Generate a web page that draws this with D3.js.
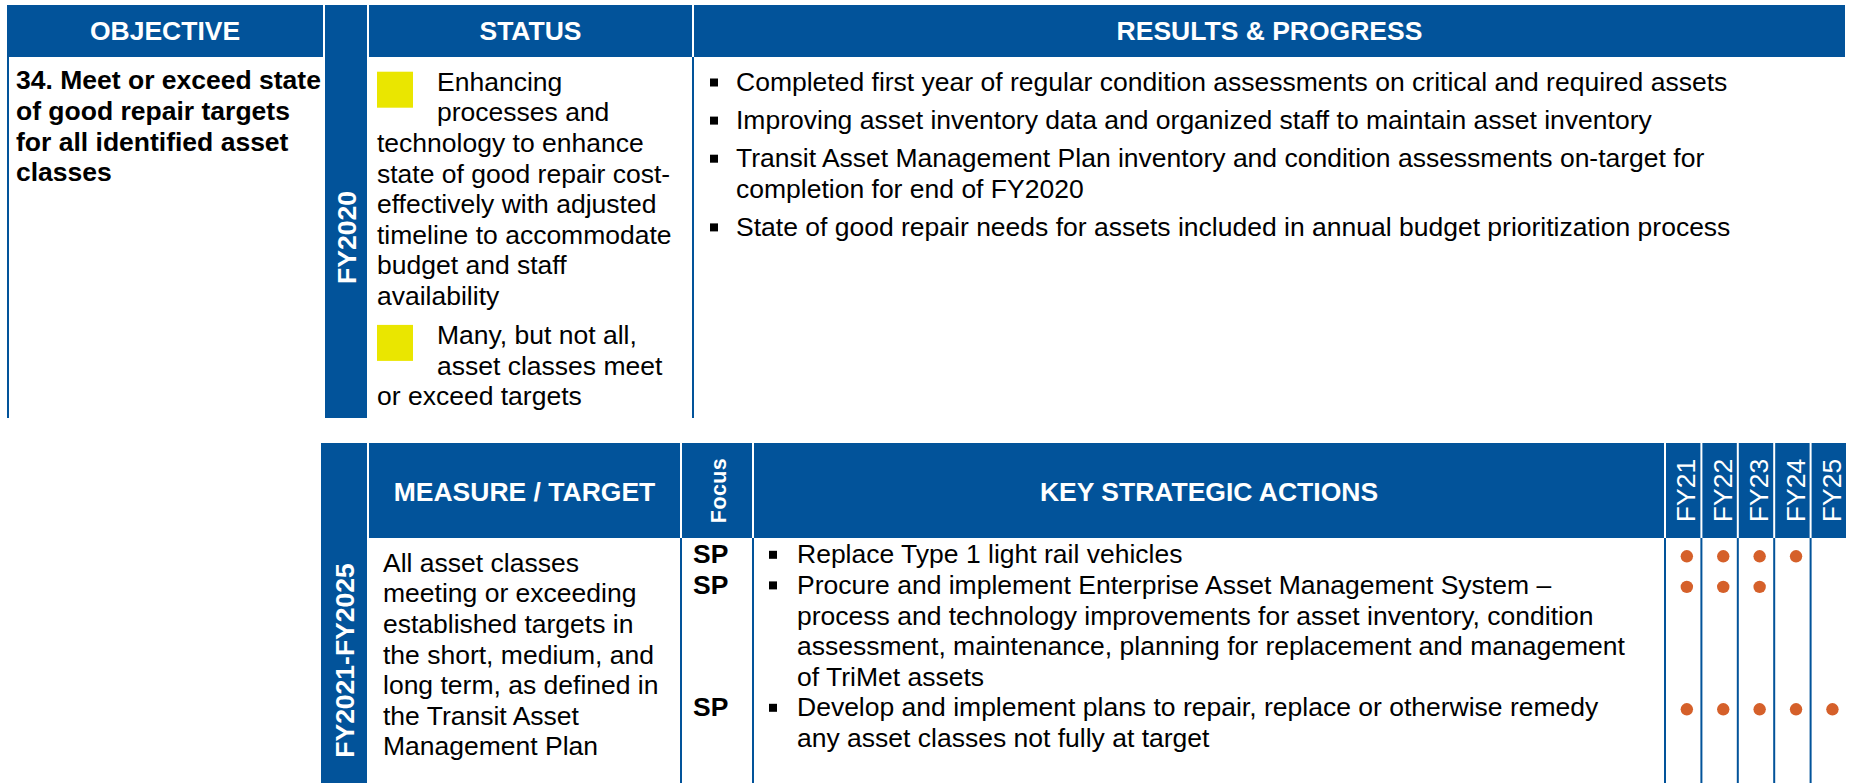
<!DOCTYPE html>
<html><head><meta charset="utf-8">
<script src="https://cdn.jsdelivr.net/npm/d3@7"></script>
<style>
body{margin:0;background:#fff;}
svg{display:block;}
text{font-family:"Liberation Sans",Arial,Helvetica,sans-serif;}
</style>
</head><body>
<script>
// ---------------- DATA ----------------
const topHeaders = ["OBJECTIVE", "STATUS", "RESULTS & PROGRESS"];
const periodNow = "FY2020";
const objectiveLines = ["34. Meet or exceed state", "of good repair targets", "for all identified asset", "classes"];
const statusColors = ["#EAE600", "#EAE600"];
const statusLines = [
  ["Enhancing", "processes and", "technology to enhance", "state of good repair cost-", "effectively with adjusted", "timeline to accommodate", "budget and staff", "availability"],
  ["Many, but not all,", "asset classes meet", "or exceed targets"]
];
const resultsLines = [
  ["Completed first year of regular condition assessments on critical and required assets"],
  ["Improving asset inventory data and organized staff to maintain asset inventory"],
  ["Transit Asset Management Plan inventory and condition assessments on-target for", "completion for end of FY2020"],
  ["State of good repair needs for assets included in annual budget prioritization process"]
];
const periodPlan = "FY2021-FY2025";
const bottomHeaders = ["MEASURE / TARGET", "Focus", "KEY STRATEGIC ACTIONS"];
const years = ["FY21", "FY22", "FY23", "FY24", "FY25"];
const measureLines = ["All asset classes", "meeting or exceeding", "established targets in", "the short, medium, and", "long term, as defined in", "the Transit Asset", "Management Plan"];
const actionFocus = ["SP", "SP", "SP"];
const actionLines = [
  ["Replace Type 1 light rail vehicles"],
  ["Procure and implement Enterprise Asset Management System \u2013", "process and technology improvements for asset inventory, condition", "assessment, maintenance, planning for replacement and management", "of TriMet assets"],
  ["Develop and implement plans to repair, replace or otherwise remedy", "any asset classes not fully at target"]
];
const actionYears = [
  ["FY21", "FY22", "FY23", "FY24"],
  ["FY21", "FY22", "FY23"],
  ["FY21", "FY22", "FY23", "FY24", "FY25"]
];

// ---------------- STYLE / LAYOUT ----------------
const W = 1853, H = 783;
const BLUE = "#02539A", DOT = "#D5602A";
const FS = 26.5, PITCH = 30.6;

const svg = d3.select("body").append("svg").attr("width", W).attr("height", H);

// ===== TOP SECTION =====
const T = {top: 5, hdr: 57, bottom: 418};
const topCols = d3.scaleOrdinal().domain(topHeaders).range([[7, 323], [369, 692], [694, 1845]]);
const barNow = [325, 367];

svg.selectAll("rect.th").data(topHeaders).join("rect").attr("class", "th")
  .attr("x", d => topCols(d)[0]).attr("y", T.top)
  .attr("width", d => topCols(d)[1] - topCols(d)[0]).attr("height", T.hdr - T.top)
  .attr("fill", BLUE);
svg.selectAll("text.th").data(topHeaders).join("text").attr("class", "th")
  .attr("x", d => (topCols(d)[0] + topCols(d)[1]) / 2).attr("y", 40)
  .attr("text-anchor", "middle").attr("fill", "#fff").attr("font-weight", "bold")
  .attr("font-size", FS).text(d => d);

svg.append("rect").attr("x", barNow[0]).attr("y", T.top).attr("width", barNow[1] - barNow[0])
  .attr("height", T.bottom - T.top).attr("fill", BLUE);
svg.append("text").attr("transform", `translate(${(barNow[0] + barNow[1]) / 2 + 1},${(T.hdr + T.bottom) / 2}) rotate(-90)`)
  .attr("dy", "0.35em").attr("text-anchor", "middle").attr("fill", "#fff")
  .attr("font-weight", "bold").attr("font-size", FS).text(periodNow);

svg.append("rect").attr("x", 7).attr("y", T.hdr).attr("width", 2).attr("height", T.bottom - T.hdr).attr("fill", BLUE);
svg.append("rect").attr("x", 692).attr("y", T.hdr).attr("width", 2).attr("height", T.bottom - T.hdr).attr("fill", BLUE);

const objY = d3.scaleLinear().domain([0, 1]).range([89.3, 89.3 + PITCH]);
svg.append("g").selectAll("text").data(objectiveLines).join("text")
  .attr("x", 16).attr("y", (d, i) => objY(i)).attr("font-size", FS).attr("font-weight", "bold")
  .attr("fill", "#000").text(d => d);

const stY = d3.scaleLinear().domain([0, 1]).range([90.7, 90.7 + PITCH]);
const STATUS_GAP = 8.4;
let offs = 0;
statusLines.forEach((lines, p) => {
  const g = svg.append("g");
  const base = offs;
  g.append("rect").attr("x", 377).attr("y", stY(base) + p * STATUS_GAP - 19)
    .attr("width", 36).attr("height", 36).attr("fill", statusColors[p]);
  g.selectAll("text").data(lines).join("text")
    .attr("x", (d, i) => i < 2 ? 437 : 377)
    .attr("y", (d, i) => stY(base + i) + p * STATUS_GAP)
    .attr("font-size", FS).attr("fill", "#000").text(d => d);
  offs += lines.length;
});

const rY = d3.scaleLinear().domain([0, 1]).range([91, 91 + PITCH]);
const RES_GAP = 7.5;
offs = 0;
resultsLines.forEach((lines, p) => {
  const g = svg.append("g");
  const y0 = rY(offs) + p * RES_GAP;
  g.append("rect").attr("x", 710).attr("y", y0 - 12.5).attr("width", 8).attr("height", 8).attr("fill", "#000");
  g.selectAll("text").data(lines).join("text")
    .attr("x", 736).attr("y", (d, i) => y0 + i * PITCH)
    .attr("font-size", FS).attr("fill", "#000").text(d => d);
  offs += lines.length;
});

// ===== BOTTOM SECTION =====
const B = {top: 443, hdr: 538, bottom: 783};
const barPlan = [321, 367];
const botCols = d3.scaleOrdinal().domain(bottomHeaders).range([[369, 680], [682, 752], [754, 1664]]);
const xYear = d3.scaleBand().domain(years).range([1665, 1847]);

svg.append("rect").attr("x", barPlan[0]).attr("y", B.top).attr("width", barPlan[1] - barPlan[0])
  .attr("height", B.bottom - B.top).attr("fill", BLUE);
svg.append("text").attr("transform", `translate(${(barPlan[0] + barPlan[1]) / 2 + 1},${(B.hdr + B.bottom) / 2}) rotate(-90)`)
  .attr("dy", "0.35em").attr("text-anchor", "middle").attr("fill", "#fff")
  .attr("font-weight", "bold").attr("font-size", FS).text(periodPlan);

svg.selectAll("rect.bh").data(bottomHeaders).join("rect").attr("class", "bh")
  .attr("x", d => botCols(d)[0]).attr("y", B.top)
  .attr("width", d => botCols(d)[1] - botCols(d)[0]).attr("height", B.hdr - B.top).attr("fill", BLUE);
svg.selectAll("text.bh").data([bottomHeaders[0], bottomHeaders[2]]).join("text").attr("class", "bh")
  .attr("x", d => (botCols(d)[0] + botCols(d)[1]) / 2).attr("y", 501)
  .attr("text-anchor", "middle").attr("fill", "#fff").attr("font-weight", "bold")
  .attr("font-size", FS).text(d => d);
svg.append("text")
  .attr("transform", `translate(${(botCols(bottomHeaders[1])[0] + botCols(bottomHeaders[1])[1]) / 2 + 1},${(B.top + B.hdr) / 2}) rotate(-90)`)
  .attr("dy", "0.35em").attr("text-anchor", "middle").attr("fill", "#fff")
  .attr("font-weight", "bold").attr("font-size", 21.5).attr("letter-spacing", 0.4).text(bottomHeaders[1]);

svg.selectAll("rect.yh").data(years).join("rect").attr("class", "yh")
  .attr("x", d => xYear(d) + 1).attr("y", B.top).attr("width", xYear.bandwidth() - 2)
  .attr("height", B.hdr - B.top).attr("fill", BLUE);
svg.selectAll("text.yh").data(years).join("text").attr("class", "yh")
  .attr("transform", d => `translate(${xYear(d) + xYear.bandwidth() / 2 + 3},${(B.top + B.hdr) / 2}) rotate(-90)`)
  .attr("dy", "0.35em").attr("text-anchor", "middle").attr("fill", "#fff")
  .attr("font-size", FS).text(d => d);

const vLines = [681, 753].concat(years.map(d => xYear(d)));
svg.selectAll("rect.vl").data(vLines).join("rect").attr("class", "vl")
  .attr("x", d => d - 1).attr("y", B.hdr).attr("width", 2).attr("height", B.bottom - B.hdr).attr("fill", BLUE);

const mY = d3.scaleLinear().domain([0, 1]).range([571.7, 571.7 + PITCH]);
svg.append("g").selectAll("text").data(measureLines).join("text")
  .attr("x", 383).attr("y", (d, i) => mY(i)).attr("font-size", FS).attr("fill", "#000").text(d => d);

const aY = d3.scaleLinear().domain([0, 1]).range([563.3, 563.3 + PITCH]);
offs = 0;
actionLines.forEach((lines, p) => {
  const g = svg.append("g");
  const y0 = aY(offs);
  g.append("text").attr("x", 693).attr("y", y0).attr("font-size", FS).attr("font-weight", "bold")
    .attr("fill", "#000").text(actionFocus[p]);
  g.append("rect").attr("x", 769).attr("y", y0 - 12.5).attr("width", 8).attr("height", 8).attr("fill", "#000");
  g.selectAll("text.al").data(lines).join("text").attr("class", "al")
    .attr("x", 797).attr("y", (d, i) => y0 + i * PITCH)
    .attr("font-size", FS).attr("fill", "#000").text(d => d);
  g.selectAll("circle").data(actionYears[p]).join("circle")
    .attr("cx", d => xYear(d) + xYear.bandwidth() * 0.6).attr("cy", y0 - 7)
    .attr("r", 6.2).attr("fill", DOT);
  offs += lines.length;
});
</script>
</body></html>
